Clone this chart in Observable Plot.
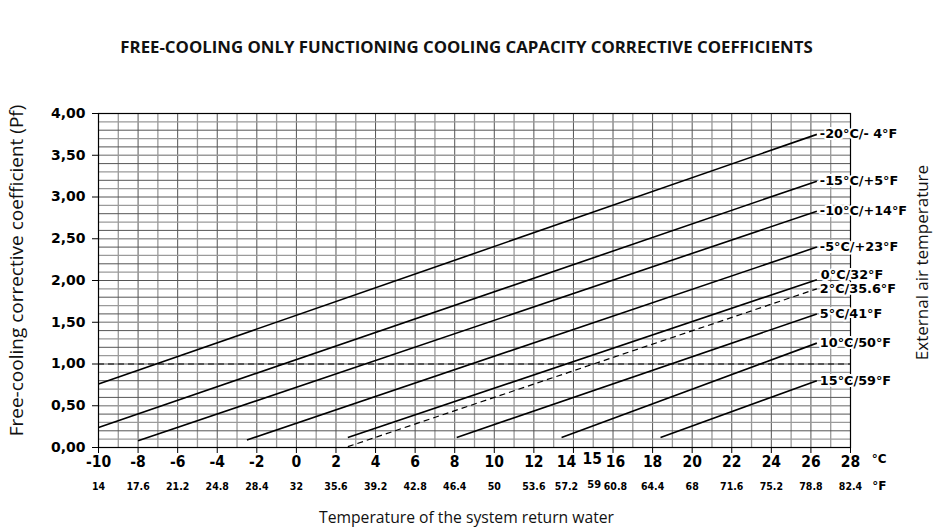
<!DOCTYPE html>
<html>
<head>
<meta charset="utf-8">
<script src="https://cdn.jsdelivr.net/npm/d3@7"></script>
<script src="https://cdn.jsdelivr.net/npm/@observablehq/plot@0.6"></script>
<style>
  html, body { margin: 0; padding: 0; background: #fff; }
  #wrap { width: 933px; height: 531px; position: relative; overflow: hidden; }
  #title { height: 80px; box-sizing: border-box; padding-top: 37px; line-height: 20px;
           text-align: center; font-family: "Open Sans", sans-serif; font-weight: 700;
           font-size: 16.8px; color: #111; white-space: nowrap; }
  svg { display: block; overflow: visible; }
</style>
</head>
<body>
<div id="wrap">
  <div id="title">FREE-COOLING ONLY FUNCTIONING COOLING CAPACITY CORRECTIVE COEFFICIENTS</div>
  <div id="chart"></div>
</div>
<script>
// ---- Data ----
const series = ["-20°C/- 4°F", "-15°C/+5°F", "-10°C/+14°F", "-5°C/+23°F", "0°C/32°F", "2°C/35.6°F", "5°C/41°F", "10°C/50°F", "15°C/59°F"];
const xStart = [-10, -10, -8, -2.5, 2.6, 2.6, 8.1, 13.4, 18.4];
const yStart = [0.76, 0.24, 0.08, 0.09, 0.12, 0.01, 0.12, 0.12, 0.12];
const xEnd   = [26.3, 26.3, 26.3, 26.3, 26.3, 26.3, 26.3, 26.3, 26.3];
const yEnd   = [3.75, 3.19, 2.83, 2.40, 2.01, 1.90, 1.60, 1.25, 0.80];
const dashed = [false, false, false, false, false, true, false, false, false];

const cTicks  = [-10, -8, -6, -4, -2, 0, 2, 4, 6, 8, 10, 12, 14, 16, 18, 20, 22, 24, 26, 28];
const cLabels = ["-10", "-8", "-6", "-4", "-2", "0", "2", "4", "6", "8", "10", "12", "14", "16", "18", "20", "22", "24", "26", "28"];
const fLabels = ["14", "17.6", "21.2", "24.8", "28.4", "32", "35.6", "39.2", "42.8", "46.4", "50", "53.6", "57.2", "60.8", "64.4", "68", "71.6", "75.2", "78.8", "82.4"];
const extraC = [15];
const extraCLabel = ["15"];
const extraFLabel = ["59"];

const yTicks  = [0, 0.5, 1, 1.5, 2, 2.5, 3, 3.5, 4];
const yLabels = ["0,00", "0,50", "1,00", "1,50", "2,00", "2,50", "3,00", "3,50", "4,00"];
const refLine = [1];

// ---- Build table ----
const rows = series.map((name, i) => ({name, x1: xStart[i], y1: yStart[i], x2: xEnd[i], y2: yEnd[i], dashed: dashed[i]}));
const vGrid = d3.range(-10, 29);
const hGrid = d3.range(0, 41).map(i => i / 10);

// labels beside the extra "15" label are nudged apart (as in the original)
const nudge = d => d === 14 ? -0.35 : d === 16 ? 0.12 : 0;

const tickFont = "DejaVu Sans";
const condFont = "DejaVu Sans Condensed";
const labelFont = "Open Sans";

const chart = Plot.plot({
  width: 933,
  height: 451,
  marginTop: 33,
  marginBottom: 84,
  marginLeft: 98,
  marginRight: 83,
  x: {domain: [-10, 28]},
  y: {domain: [0, 4]},
  marks: [
    // grid
    Plot.ruleX(vGrid.filter(v => Math.abs(v) % 2 === 1), {stroke: "#9a9a9a", strokeWidth: 1.3}),
    Plot.ruleX(vGrid.filter(v => v % 2 === 0), {stroke: "#555", strokeWidth: 1}),
    Plot.ruleY(hGrid.filter((v, i) => i % 2 === 1), {stroke: "#9a9a9a", strokeWidth: 1.3}),
    Plot.ruleY(hGrid.filter((v, i) => i % 2 === 0), {stroke: "#555", strokeWidth: 1}),
    Plot.ruleY(refLine, {stroke: "#000", strokeWidth: 1.1, strokeDasharray: "6,4"}),
    Plot.frame({stroke: "#000", strokeWidth: 1.2}),
    // lines
    Plot.link(rows.filter(d => !d.dashed), {x1: "x1", y1: "y1", x2: "x2", y2: "y2", stroke: "#000", strokeWidth: 1.6}),
    Plot.link(rows.filter(d => d.dashed), {x1: "x1", y1: "y1", x2: "x2", y2: "y2", stroke: "#000", strokeWidth: 1.2, strokeDasharray: "6,4"}),
    // line labels
    Plot.text(rows.filter(d => d.name !== "0°C/32°F"), {x: "x2", y: "y2", text: "name", textAnchor: "start", dx: 3,
      fontFamily: tickFont, fontWeight: "bold", fontSize: 12.8, fill: "#000", stroke: "#fff", strokeWidth: 4}),
    Plot.text(rows.filter(d => d.name === "0°C/32°F"), {x: "x2", y: "y2", text: "name", textAnchor: "start", dx: 4, dy: -5,
      fontFamily: tickFont, fontWeight: "bold", fontSize: 12.8, fill: "#000", stroke: "#fff", strokeWidth: 4}),
    // axes
    Plot.axisY({ticks: yTicks, tickFormat: d => yLabels[yTicks.indexOf(d)], tickSize: 6, tickPadding: 7,
      fontFamily: tickFont, fontWeight: "bold", fontSize: 14, label: null, stroke: "#000"}),
    Plot.axisX({ticks: cTicks, tickFormat: () => "", tickSize: 6, label: null, stroke: "#000"}),
    Plot.text(cTicks, {x: d => d + nudge(d), frameAnchor: "bottom", dy: 19, text: (d, i) => cLabels[i],
      fontFamily: condFont, fontWeight: "bold", fontSize: 15.5}),
    Plot.text(extraC, {x: d => d - 0.05, frameAnchor: "bottom", dy: 16, text: (d, i) => extraCLabel[i],
      fontFamily: condFont, fontWeight: "bold", fontSize: 15.5}),
    Plot.text(cTicks, {x: d => d + nudge(d), frameAnchor: "bottom", dy: 42, text: (d, i) => fLabels[i],
      fontFamily: condFont, fontWeight: "bold", fontSize: 10.5}),
    Plot.text(extraC, {x: d => d + 0.05, frameAnchor: "bottom", dy: 40, text: (d, i) => extraFLabel[i],
      fontFamily: condFont, fontWeight: "bold", fontSize: 11}),
    Plot.text(["°C"], {frameAnchor: "bottom-right", dx: 36, dy: 15, text: d => d, fontFamily: tickFont, fontWeight: "bold", fontSize: 12}),
    Plot.text(["°F"], {frameAnchor: "bottom-right", dx: 36, dy: 42, text: d => d, fontFamily: tickFont, fontWeight: "bold", fontSize: 12}),
    // axis titles
    Plot.text(["Free-cooling corrective coefficient (Pf)"], {frameAnchor: "left", textAnchor: "middle", dx: -82, dy: -10, rotate: -90, text: d => d,
      fontFamily: labelFont, fontSize: 19, fill: "#111"}),
    Plot.text(["External air temperature"], {frameAnchor: "right", textAnchor: "middle", dx: 72, dy: -18, rotate: -90, text: d => d,
      fontFamily: labelFont, fontSize: 17, fill: "#111"}),
    Plot.text(["Temperature of the system return water"], {frameAnchor: "bottom", dx: -8, dy: 75, text: d => d,
      fontFamily: labelFont, fontSize: 15.7, fill: "#111"})
  ]
});
document.getElementById("chart").appendChild(chart);
</script>
</body>
</html>
